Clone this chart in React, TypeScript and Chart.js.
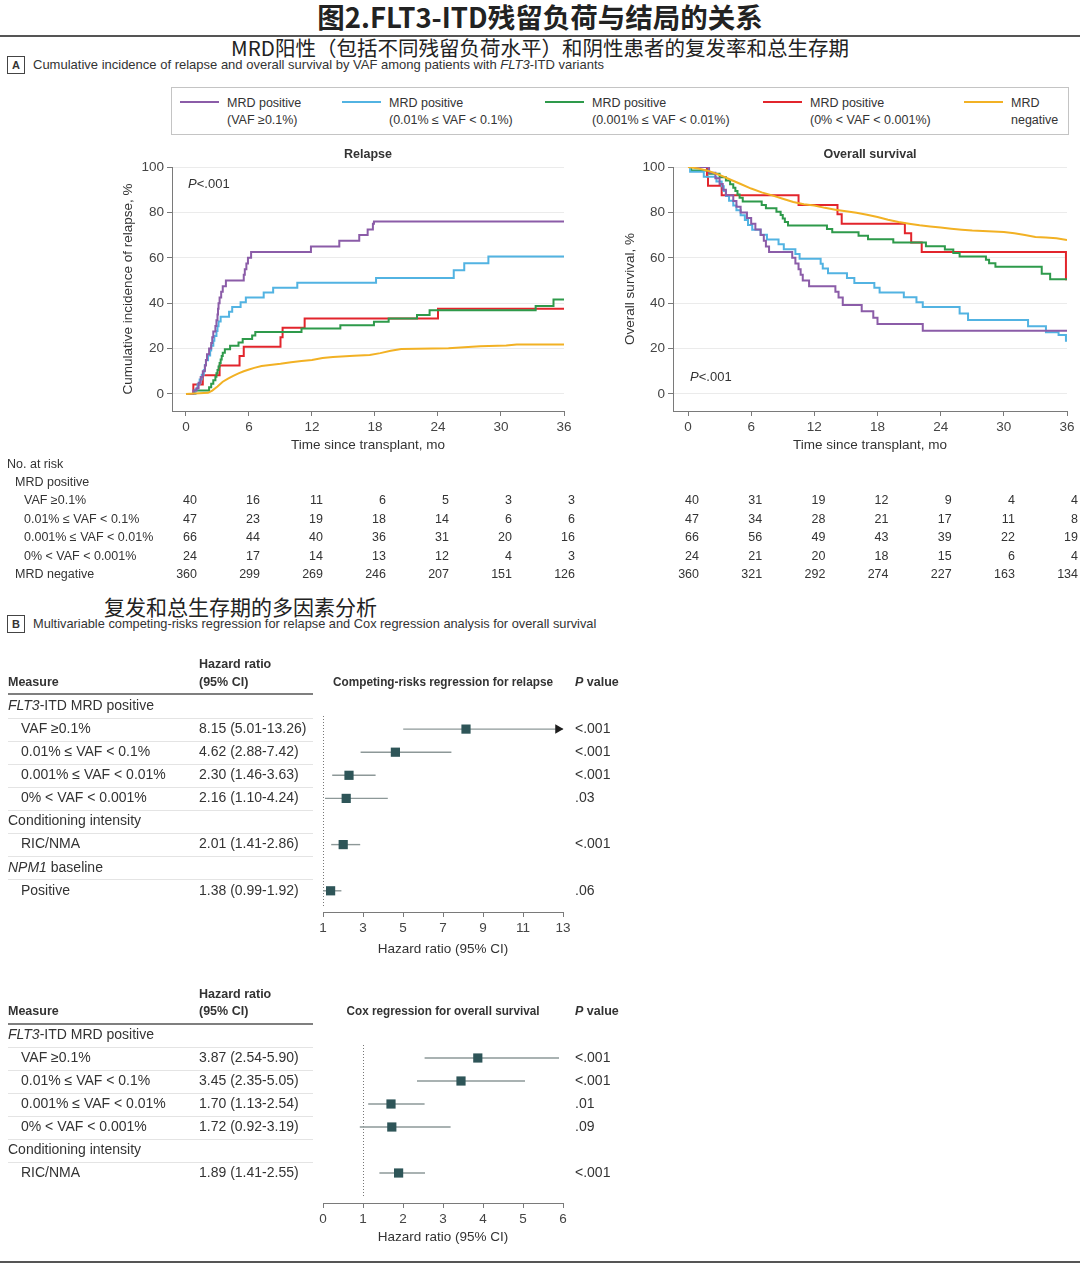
import React, { useEffect, useRef } from 'react';
import { Chart, registerables } from 'chart.js';
Chart.register(...registerables);

const SANS = '"Liberation Sans", Arial, Helvetica, sans-serif';
const CJK = '"Noto Sans CJK SC", "Noto Sans CJK TC", sans-serif';
const TEXT = '#333333';
const AXIS = '#7a7a7a';

// ---------- groups ----------
const groupNames = ['VAF ≥0.1%', '0.01% ≤ VAF < 0.1%', '0.001% ≤ VAF < 0.01%', '0% < VAF < 0.001%', 'MRD negative'];
const groupColors = ['#8b5ca8', '#52b3e2', '#2e9a4b', '#e2252c', '#f2b124'];
const legendLine1 = ['MRD positive', 'MRD positive', 'MRD positive', 'MRD positive', 'MRD'];
const legendLine2 = ['(VAF ≥0.1%)', '(0.01% ≤ VAF < 0.1%)', '(0.001% ≤ VAF < 0.01%)', '(0% < VAF < 0.001%)', 'negative'];
const kmStepped = [true, true, true, true, false];
const kmOrder = [1, 2, 3, 4, 0];

const timeTicks = [0, 6, 12, 18, 24, 30, 36];
const percentTicks = [0, 20, 40, 60, 80, 100];

// ---------- relapse (month, cumulative incidence %) ----------
const relapseVaf01 = [[0,0],[0.7,1.5],[1.0,2.5],[1.2,5],[1.4,7.5],[1.6,10],[1.8,12.5],[1.9,15],[2.0,17.5],[2.2,20],[2.4,22.5],[2.5,25],[2.6,27.5],[2.8,30],[2.9,32.5],[3.0,35],[3.05,37.5],[3.1,40],[3.2,42.5],[3.35,45],[3.5,47.5],[3.8,50],[5.5,52.5],[5.6,55],[5.75,57.5],[5.9,60],[6.2,62.5],[11.9,65],[14.6,67.5],[16.5,70],[17.3,72.5],[17.8,75],[17.9,76],[36,76]];
const relapseVaf001 = [[0,0],[0.9,2.1],[1.1,4.3],[1.3,6.4],[1.5,8.5],[1.7,10.6],[1.8,12.8],[1.9,14.9],[2.1,17],[2.3,19.1],[2.4,21.3],[2.6,23.4],[2.7,25.5],[2.9,27.7],[3.0,29.8],[3.1,31.9],[3.3,34],[4.1,36.2],[4.4,38.3],[5.2,40.4],[5.7,42.5],[7.4,44.7],[8.3,46.8],[10.6,49],[18.1,51.1],[25.5,54.5],[26.5,57.6],[28.8,60.6],[36,60.6]];
const relapseVaf0001 = [[0,0],[0.8,1.5],[2.2,3],[2.4,4.5],[2.6,6],[2.8,7.6],[2.9,9.1],[3.0,10.6],[3.1,12.1],[3.2,13.6],[3.3,15.2],[3.4,16.7],[3.5,18.2],[3.7,19.7],[4.2,21.2],[5.0,22.7],[5.4,24.2],[6.3,25.8],[6.6,27.3],[11.0,28.8],[14.7,30.3],[17.9,31.8],[19.3,33.3],[22.0,34.8],[23.2,36.9],[33.3,38.8],[35.0,41.6],[36,41.6]];
const relapseVaf0 = [[0,0],[0.7,4.2],[1.6,8.3],[3.2,12.5],[5.1,16.7],[5.5,20.8],[9.0,25],[9.2,29.2],[11.3,33.3],[24.0,37.5],[36,37.5]];
const relapseNeg = [[0,0],[2.1,0.5],[2.5,1.5],[3.0,3.3],[3.5,5.4],[4.0,6.8],[4.5,8.0],[5.0,9.1],[5.5,10],[6.0,10.8],[6.5,11.5],[7.2,12.3],[8.0,12.8],[9.0,13.3],[10.0,14],[11.0,14.5],[12.0,15],[13.0,15.8],[14.0,16.3],[16.0,16.8],[17.5,17.2],[18.5,18],[19.5,19],[20.5,19.8],[25.0,20.1],[26.5,20.6],[28.0,21],[30.5,21.4],[31.5,21.8],[36,21.8]];

// ---------- overall survival (month, %) ----------
const osVaf01 = [[0,100],[2.0,97.5],[2.6,95],[3.0,92.5],[3.3,90],[3.6,87.5],[4.3,85],[4.6,82.5],[5.0,80],[5.6,77.5],[6.0,75],[6.4,72.5],[6.9,70],[7.2,67.5],[7.4,65],[7.7,62.5],[9.9,60],[10.2,57.5],[10.5,55],[10.7,52.5],[10.9,50],[11.5,47.5],[14.0,45],[14.3,42.5],[14.7,39.2],[16.5,36.5],[17.6,33.6],[18.0,30.8],[22.3,27.9],[36,27.9]];
const osVaf001 = [[0,100],[0.2,97.9],[1.5,95.7],[2.7,93.6],[3.2,91.5],[3.4,89.4],[3.6,87.2],[3.9,85.1],[4.3,83],[4.6,80.9],[5.0,78.7],[5.4,76.6],[5.7,74.5],[6.1,72.3],[6.9,70.2],[7.5,68.1],[8.6,66],[9.1,63.8],[10.2,61.7],[10.6,59.6],[12.6,57.4],[12.8,55.3],[13.3,53.2],[15.1,51.1],[15.8,48.9],[17.7,46.8],[18.2,44.7],[20.5,42.6],[21.7,40.4],[22.3,38.3],[25.8,35.5],[26.6,32.6],[32.3,29.8],[34.0,27.2],[35.2,26],[35.9,23.5],[36,23.5]];
const osVaf0001 = [[0,100],[0.3,98.5],[2.0,97],[3.0,95.5],[3.6,94],[4.0,92.4],[4.3,90.9],[4.5,89.4],[4.7,87.9],[4.9,86.4],[5.2,84.8],[7.0,83.3],[7.4,81.8],[8.4,80.3],[8.8,78.8],[9.0,77.3],[9.2,75.8],[9.5,74.2],[13.2,72.7],[13.7,71.2],[16.2,69.7],[17.1,68.2],[19.5,66.7],[22.6,65.1],[24.4,63.6],[25.2,62.1],[25.8,60.6],[28.3,59.1],[28.6,57.6],[29.2,56.1],[33.6,53],[34.4,50.5],[36,50.5]];
const osVaf0 = [[0,100],[1.8,95.8],[1.9,91.7],[3.2,87.5],[10.5,83.3],[14.2,79.2],[14.6,75],[20.6,70.8],[21.2,66.7],[22.2,62.5],[35.9,50.5],[36,50.5]];
const osNeg = [[0,100],[1,99.3],[2,98.2],[3,96.5],[4,94.5],[5,92.5],[6,90.5],[7,88.8],[8,87.5],[9,86],[10,84.6],[11,83.6],[12,83],[13,82],[14,81.2],[15,80.5],[16,79.8],[17,79],[18,78],[19,76.8],[20,75.8],[21,75],[22,74.3],[23,73.8],[24,73.3],[25,72.8],[26,72.4],[27,72],[28,71.8],[29,71.6],[30,71.4],[31,70.8],[32,70],[33,69.2],[34,68.9],[35,68.6],[36,67.8]];

// ---------- numbers at risk ----------
const relapseRisk = [[40,16,11,6,5,3,3],[47,23,19,18,14,6,6],[66,44,40,36,31,20,16],[24,17,14,13,12,4,3],[360,299,269,246,207,151,126]];
const osRisk = [[40,31,19,12,9,4,4],[47,34,28,21,17,11,8],[66,56,49,43,39,22,19],[24,21,20,18,15,6,4],[360,321,292,274,227,163,134]];

// ---------- forest: relapse ----------
const relapseMeasures = ['*FLT3*-ITD MRD positive', 'VAF ≥0.1%', '0.01% ≤ VAF < 0.1%', '0.001% ≤ VAF < 0.01%', '0% < VAF < 0.001%', 'Conditioning intensity', 'RIC/NMA', '*NPM1* baseline', 'Positive'];
const relapseIndent = [0, 1, 1, 1, 1, 0, 1, 0, 1];
const relapseRows = [1, 2, 3, 4, 6, 8];
const relapseHR = [8.15, 4.62, 2.30, 2.16, 2.01, 1.38];
const relapseLo = [5.01, 2.88, 1.46, 1.10, 1.41, 0.99];
const relapseHi = [13.26, 7.42, 3.63, 4.24, 2.86, 1.92];
const relapseP = ['<.001', '<.001', '<.001', '.03', '<.001', '.06'];
const relapseXTicks = [1, 3, 5, 7, 9, 11, 13];

// ---------- forest: overall survival ----------
const osMeasures = ['*FLT3*-ITD MRD positive', 'VAF ≥0.1%', '0.01% ≤ VAF < 0.1%', '0.001% ≤ VAF < 0.01%', '0% < VAF < 0.001%', 'Conditioning intensity', 'RIC/NMA'];
const osIndent = [0, 1, 1, 1, 1, 0, 1];
const osRows = [1, 2, 3, 4, 6];
const osHR = [3.87, 3.45, 1.70, 1.72, 1.89];
const osLo = [2.54, 2.35, 1.13, 0.92, 1.41];
const osHi = [5.90, 5.05, 2.54, 3.19, 2.55];
const osP = ['<.001', '<.001', '.01', '.09', '<.001'];
const osXTicks = [0, 1, 2, 3, 4, 5, 6];

function drawRich(ctx: any, text: string, x: number, y: number, size: number, weight: string, align: string = 'left', maxW?: number) {
  const parts = text.split('*');
  const fonts = parts.map((_, i) => `${i % 2 ? 'italic ' : ''}${weight} ${size}px ${SANS}`);
  const widths = parts.map((t, i) => { ctx.font = fonts[i]; return ctx.measureText(t).width; });
  const total = widths.reduce((a, b) => a + b, 0);
  const k = maxW && total > maxW ? maxW / total : 1;
  let cx = align === 'center' ? x - (total * k) / 2 : align === 'right' ? x - total * k : x;
  ctx.textAlign = 'left';
  parts.forEach((t, i) => {
    ctx.font = fonts[i];
    if (t) ctx.fillText(t, cx, y, Math.max(widths[i] * k, 0.5));
    cx += widths[i] * k;
  });
}

function KMChart(props: any) {
  const ref = useRef<HTMLCanvasElement>(null);
  useEffect(() => {
    const p = props;
    const tickFont = { family: SANS, size: 13.5 };
    const annot = {
      id: 'kmAnnot',
      afterDraw(chart: any) {
        const { ctx, chartArea } = chart;
        const xs = chart.scales.x, ys = chart.scales.y;
        ctx.save();
        ctx.fillStyle = TEXT;
        ctx.textBaseline = 'middle';
        drawRich(ctx, p.title, (chartArea.left + chartArea.right) / 2, 15, 12.5, 'bold', 'center');
        drawRich(ctx, '*P*<.001', xs.getPixelForValue(p.pPos[0]), ys.getPixelForValue(p.pPos[1]), 13, 'normal');
        if (p.rowLabels) {
          drawRich(ctx, 'No. at risk', 7, 325, 12.5, 'normal');
          drawRich(ctx, 'MRD positive', 15, 343, 12.5, 'normal');
          groupNames.forEach((g, i) => drawRich(ctx, g, i < 4 ? 24 : 15, 361 + 18.5 * i, 12.5, 'normal'));
        }
        p.risk.forEach((row: number[], i: number) =>
          row.forEach((n: number, j: number) =>
            drawRich(ctx, String(n), xs.getPixelForValue(timeTicks[j]) + 11, 361 + 18.5 * i, 12.5, 'normal', 'right')));
        ctx.restore();
      },
    };
    const chart = new Chart(ref.current as any, {
      type: 'line',
      data: {
        datasets: p.series.map((s: number[][], i: number) => ({
          data: s.map(([x, y]) => ({ x, y })),
          borderColor: groupColors[i],
          backgroundColor: groupColors[i],
          borderWidth: 2,
          pointRadius: 0,
          stepped: kmStepped[i] ? 'before' : false,
          fill: false,
          order: kmOrder[i],
        })),
      },
      options: {
        animation: false,
        responsive: false,
        devicePixelRatio: 1,
        layout: { padding: p.pad },
        plugins: { legend: { display: false }, tooltip: { enabled: false }, title: { display: false } },
        scales: {
          x: {
            type: 'linear', min: p.xMin, max: 36,
            afterBuildTicks: (s: any) => { s.ticks = timeTicks.map((v) => ({ value: v })); },
            ticks: { font: tickFont, color: '#444', padding: 3, maxRotation: 0, autoSkip: false },
            grid: { display: true, drawOnChartArea: false, drawTicks: true, tickLength: 5, tickColor: AXIS },
            border: { display: true, color: AXIS, width: 1 },
            title: { display: true, text: 'Time since transplant, mo', font: tickFont, color: TEXT, padding: { top: 2, bottom: 4 } },
            afterFit: (s: any) => { s.height = 46; },
          },
          y: {
            type: 'linear', min: -7.5, max: 100,
            afterBuildTicks: (s: any) => { s.ticks = percentTicks.map((v) => ({ value: v })); },
            ticks: { font: tickFont, color: '#444', padding: 3, autoSkip: false },
            grid: { display: true, drawOnChartArea: true, color: '#ebebeb', tickColor: AXIS, tickLength: 5 },
            border: { display: true, color: AXIS, width: 1 },
            title: { display: true, text: p.yTitle, font: tickFont, color: TEXT, padding: { top: 8, bottom: 4 } },
            afterFit: (s: any) => { s.width = p.yWidth; },
          },
        },
      } as any,
      plugins: [annot],
    } as any);
    return () => chart.destroy();
  }, []);
  return (
    <canvas ref={ref} width={props.width} height={props.height}
      style={{ position: 'absolute', left: props.left, top: props.top, width: props.width, height: props.height }} />
  );
}

function ForestChart(props: any) {
  const ref = useRef<HTMLCanvasElement>(null);
  useEffect(() => {
    const p = props;
    const tickFont = { family: SANS, size: 13.5 };
    const yMin = (p.areaTop - p.row0) / p.gap;
    const yMax = (p.areaBottom - p.row0) / p.gap;
    const unitsPerPx = (p.ticks[p.ticks.length - 1] - p.ticks[0]) / 240;
    const xMax = p.ticks[p.ticks.length - 1];
    const annot = {
      id: 'forestAnnot',
      beforeDatasetsDraw(chart: any) {
        const { ctx, chartArea } = chart;
        const x1 = Math.round(chart.scales.x.getPixelForValue(1)) + 0.5;
        ctx.save();
        ctx.strokeStyle = '#777';
        ctx.lineWidth = 1;
        ctx.setLineDash([1, 2]);
        ctx.beginPath();
        ctx.moveTo(x1, chartArea.top);
        ctx.lineTo(x1, chartArea.bottom - 6);
        ctx.stroke();
        ctx.restore();
      },
      afterDraw(chart: any) {
        const { ctx, chartArea } = chart;
        const ys = chart.scales.y;
        const hline = (x0: number, x1: number, y: number) => { ctx.beginPath(); ctx.moveTo(x0, y); ctx.lineTo(x1, y); ctx.stroke(); };
        ctx.save();
        ctx.fillStyle = TEXT;
        ctx.textBaseline = 'middle';
        const yH = ys.getPixelForValue(-1);
        drawRich(ctx, 'Measure', 8, yH, 12.5, 'bold');
        drawRich(ctx, 'Hazard ratio', 199, ys.getPixelForValue(-1.78), 12.5, 'bold');
        drawRich(ctx, '(95% CI)', 199, yH, 12.5, 'bold');
        drawRich(ctx, p.title, (chartArea.left + chartArea.right) / 2, yH, 12, 'bold', 'center', p.titleW);
        drawRich(ctx, '*P* value', 575, yH, 12.5, 'bold');
        ctx.strokeStyle = '#555';
        ctx.lineWidth = 1.5;
        hline(8, 313, Math.round(ys.getPixelForValue(-0.5)));
        ctx.strokeStyle = '#e4e4e4';
        ctx.lineWidth = 1;
        for (let j = 0; j < p.labels.length - 1; j++) hline(8, 313, Math.round(ys.getPixelForValue(j + 0.5)) + 0.5);
        p.labels.forEach((t: string, j: number) => drawRich(ctx, t, p.indent[j] ? 21 : 8, ys.getPixelForValue(j), 14, 'normal'));
        p.rows.forEach((r: number, i: number) => {
          const y = ys.getPixelForValue(r);
          drawRich(ctx, `${p.hr[i].toFixed(2)} (${p.lo[i].toFixed(2)}-${p.hi[i].toFixed(2)})`, 199, y, 14, 'normal');
          drawRich(ctx, p.pv[i], 575, y, 14, 'normal');
        });
        ctx.restore();
      },
    };
    const ciSets = p.rows.map((r: number, i: number) => ({
      data: [{ x: p.lo[i], y: r }, { x: p.hi[i], y: r }],
      showLine: true,
      borderColor: '#8d9898',
      borderWidth: 1.4,
      pointRadius: 0,
    }));
    const markSet = {
      data: p.rows.map((r: number, i: number) => ({ x: p.hr[i], y: r })),
      showLine: false,
      pointStyle: 'rect',
      pointRadius: 6.5,
      backgroundColor: '#2e5558',
      borderColor: '#2e5558',
      borderWidth: 0,
    };
    const arrowSet = {
      data: p.rows.filter((r: number, i: number) => p.hi[i] > xMax).map((r: number) => ({ x: xMax - 5 * unitsPerPx, y: r })),
      showLine: false,
      pointStyle: 'triangle',
      pointRotation: 90,
      pointRadius: 5.5,
      backgroundColor: '#1e1e1e',
      borderColor: '#1e1e1e',
      borderWidth: 0,
      clip: false,
    };
    const chart = new Chart(ref.current as any, {
      type: 'scatter',
      data: { datasets: [markSet, arrowSet, ...ciSets] },
      options: {
        animation: false,
        responsive: false,
        devicePixelRatio: 1,
        layout: { padding: { left: 323, right: p.width - 563, top: p.areaTop, bottom: p.height - p.areaBottom - p.xH } },
        plugins: { legend: { display: false }, tooltip: { enabled: false } },
        scales: {
          x: {
            type: 'linear', min: p.ticks[0], max: xMax,
            afterBuildTicks: (s: any) => { s.ticks = p.ticks.map((v: number) => ({ value: v })); },
            ticks: { font: tickFont, color: '#444', padding: 3, maxRotation: 0, autoSkip: false },
            grid: { display: true, drawOnChartArea: false, tickLength: 5, tickColor: AXIS },
            border: { display: true, color: AXIS, width: 1 },
            title: { display: true, text: 'Hazard ratio (95% CI)', font: tickFont, color: TEXT, padding: { top: 2, bottom: 4 } },
            afterFit: (s: any) => { s.height = p.xH; },
          },
          y: { type: 'linear', min: yMin, max: yMax, reverse: true, display: false },
        },
      } as any,
      plugins: [annot],
    } as any);
    return () => chart.destroy();
  }, []);
  return (
    <canvas ref={ref} width={props.width} height={props.height}
      style={{ position: 'absolute', left: 0, top: props.top, width: props.width, height: props.height }} />
  );
}

const abs = (left: number, top: number, extra: any = {}) => ({ position: 'absolute' as const, left, top, ...extra });

export default function App() {
  const legendX = [180, 342, 545, 763, 964];
  return (
    <div style={{ position: 'absolute', left: 0, top: 0, width: 1080, height: 1266, background: '#fff', overflow: 'hidden', fontFamily: SANS, color: TEXT }}>
      <div style={abs(0, 0, { width: 1080, textAlign: 'center', fontFamily: CJK, fontSize: 27.5, fontWeight: 600, lineHeight: '32px', color: '#222', whiteSpace: 'nowrap' })}>
        图2.FLT3-ITD残留负荷与结局的关系
      </div>
      <div style={abs(0, 35, { width: 1080, height: 2, background: '#555' })} />
      <div style={abs(0, 35, { width: 1080, textAlign: 'center', fontFamily: CJK, fontSize: 20.5, fontWeight: 400, lineHeight: '24px', color: '#222', whiteSpace: 'nowrap' })}>
        MRD阳性（包括不同残留负荷水平）和阴性患者的复发率和总生存期
      </div>
      <div style={abs(7, 56, { width: 18, height: 18, boxSizing: 'border-box', border: '1px solid #444', fontSize: 11, fontWeight: 'bold', textAlign: 'center', lineHeight: '16px' })}>A</div>
      <div style={abs(33, 57, { fontSize: 13, lineHeight: '16px', whiteSpace: 'nowrap' })}>
        Cumulative incidence of relapse and overall survival by VAF among patients with <i>FLT3</i>-ITD variants
      </div>

      <div style={abs(171, 87, { width: 898, height: 48, boxSizing: 'border-box', border: '1px solid #c4c4c4' })} />
      {legendX.map((x, i) => (
        <React.Fragment key={i}>
          <div style={abs(x, 101, { width: 39, height: 2, background: groupColors[i] })} />
          <div style={abs(x + 47, 94.5, { fontSize: 12.5, lineHeight: '17px', whiteSpace: 'nowrap' })}>
            {legendLine1[i]}<br />{legendLine2[i]}
          </div>
        </React.Fragment>
      ))}

      <KMChart left={0} top={140} width={590} height={450}
        pad={{ left: 112, right: 26, top: 27, bottom: 133 }} yWidth={60} xMin={-1.333}
        title="Relapse" yTitle="Cumulative incidence of relapse, %"
        series={[relapseVaf01, relapseVaf001, relapseVaf0001, relapseVaf0, relapseNeg]}
        risk={relapseRisk} pPos={[0.2, 92.5]} rowLabels={true} />
      <KMChart left={590} top={140} width={490} height={450}
        pad={{ left: 24, right: 13, top: 27, bottom: 133 }} yWidth={59} xMin={-1.425}
        title="Overall survival" yTitle="Overall survival, %"
        series={[osVaf01, osVaf001, osVaf0001, osVaf0, osNeg]}
        risk={osRisk} pPos={[0.2, 7.5]} rowLabels={false} />

      <div style={abs(104, 593, { fontFamily: CJK, fontSize: 21, fontWeight: 400, lineHeight: '26px', color: '#222', whiteSpace: 'nowrap' })}>
        复发和总生存期的多因素分析
      </div>
      <div style={abs(7, 615, { width: 18, height: 18, boxSizing: 'border-box', border: '1px solid #444', fontSize: 11, fontWeight: 'bold', textAlign: 'center', lineHeight: '16px' })}>B</div>
      <div style={abs(33, 616, { fontSize: 12.8, lineHeight: '16px', whiteSpace: 'nowrap' })}>
        Multivariable competing-risks regression for relapse and Cox regression analysis for overall survival
      </div>

      <ForestChart top={650} width={660} height={320} row0={56} gap={23.1} areaTop={66} areaBottom={262} xH={49}
        ticks={relapseXTicks} title="Competing-risks regression for relapse" titleW={220}
        labels={relapseMeasures} indent={relapseIndent} rows={relapseRows}
        hr={relapseHR} lo={relapseLo} hi={relapseHi} pv={relapseP} />
      <ForestChart top={980} width={660} height={286} row0={55} gap={23} areaTop={65} areaBottom={223} xH={46}
        ticks={osXTicks} title="Cox regression for overall survival" titleW={193}
        labels={osMeasures} indent={osIndent} rows={osRows}
        hr={osHR} lo={osLo} hi={osHi} pv={osP} />

      <div style={abs(0, 1261, { width: 1080, height: 2, background: '#555' })} />
    </div>
  );
}
